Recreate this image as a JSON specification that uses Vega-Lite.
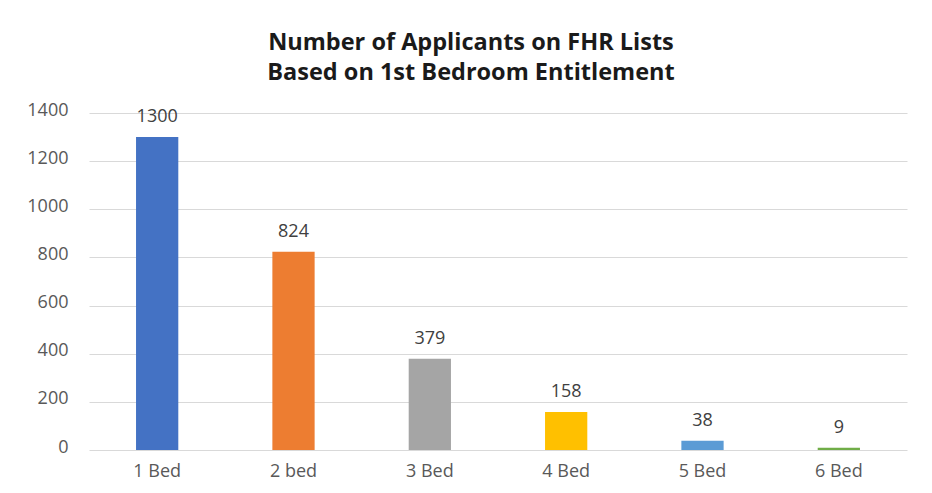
{
  "$schema": "https://vega.github.io/schema/vega-lite/v6.json",
  "autosize": "none",
  "width": 818,
  "height": 337,
  "padding": {"left": 89, "top": 113, "right": 25, "bottom": 43},
  "background": "white",
  "title": {
    "text": ["Number of Applicants on FHR Lists", "Based on 1st Bedroom Entitlement"],
    "anchor": "middle",
    "frame": "group",
    "dx": -27,
    "offset": 17,
    "font": "Open Sans",
    "fontSize": 23.5,
    "fontWeight": "bold",
    "color": "#1a1a1a",
    "lineHeight": 30
  },
  "data": {
    "values": [
      {"bed": "1 Bed", "count": 1300},
      {"bed": "2 bed", "count": 824},
      {"bed": "3 Bed", "count": 379},
      {"bed": "4 Bed", "count": 158},
      {"bed": "5 Bed", "count": 38},
      {"bed": "6 Bed", "count": 9}
    ]
  },
  "encoding": {
    "x": {
      "field": "bed",
      "type": "nominal",
      "sort": null,
      "scale": {"paddingInner": 0.69, "paddingOuter": 0.345},
      "axis": {
        "title": null,
        "labelAngle": 0,
        "domain": false,
        "ticks": false,
        "labelPadding": 12,
        "labelFont": "Open Sans",
        "labelFontSize": 18,
        "labelColor": "#595959"
      }
    },
    "y": {
      "field": "count",
      "type": "quantitative",
      "scale": {"domain": [0, 1400]},
      "axis": {
        "title": null,
        "values": [0, 200, 400, 600, 800, 1000, 1200, 1400],
        "format": "d",
        "domain": false,
        "ticks": false,
        "labelPadding": 21,
        "labelOffset": -3,
        "labelFont": "Open Sans",
        "labelFontSize": 18,
        "labelColor": "#595959",
        "gridColor": "#d9d9d9",
        "gridWidth": 1
      }
    }
  },
  "layer": [
    {
      "mark": {"type": "bar"},
      "encoding": {
        "color": {
          "field": "bed",
          "type": "nominal",
          "sort": null,
          "legend": null,
          "scale": {
            "domain": ["1 Bed", "2 bed", "3 Bed", "4 Bed", "5 Bed", "6 Bed"],
            "range": ["#4472C4", "#ED7D31", "#A5A5A5", "#FFC000", "#5B9BD5", "#70AD47"]
          }
        }
      }
    },
    {
      "mark": {"type": "text", "baseline": "alphabetic", "dy": -15, "font": "Open Sans", "fontSize": 18, "color": "#404040"},
      "encoding": {"text": {"field": "count", "type": "quantitative"}}
    }
  ],
  "config": {"view": {"stroke": null}}
}
